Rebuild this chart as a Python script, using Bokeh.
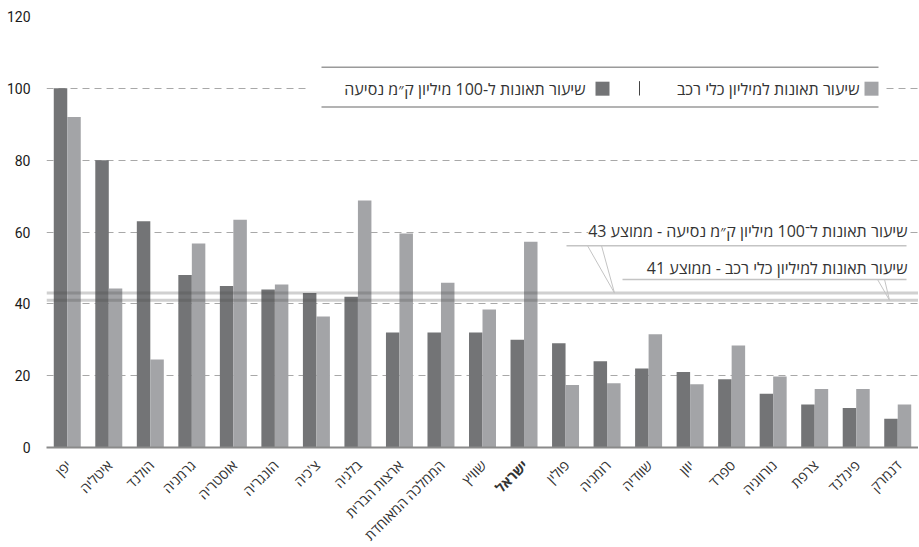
from math import pi
from bokeh.plotting import figure
from bokeh.layouts import column
from bokeh.models import Range1d, ColumnDataSource, Label, Span, BoxAnnotation, FixedTicker
from bokeh.transform import dodge
from bokeh.core.properties import value
from bokeh.embed import file_html
from bokeh.resources import INLINE

countries = ["יפן", "איטליה", "הולנד", "גרמניה", "אוסטריה", "הונגריה", "צ'כיה", "בלגיה",
             "ארצות הברית", "הממלכה המאוחדת", "שוויץ", "ישראל", "פולין", "רומניה", "שוודיה",
             "יוון", "ספרד", "נורווגיה", "צרפת", "פינלנד", "דנמרק"]
rate_per_100m_km = [100, 80, 63, 48, 45, 44, 43, 42, 32, 32, 32, 30, 29, 24, 22, 21, 19, 15, 12, 11, 8]
rate_per_1m_vehicles = [92, 44.3, 24.5, 56.8, 63.4, 45.4, 36.5, 68.8, 59.6, 45.9, 38.4, 57.3,
                        17.4, 17.9, 31.5, 17.6, 28.4, 19.8, 16.3, 16.3, 12]
highlight = "ישראל"
avg_km = 43
avg_veh = 41
y_ticks = [0, 20, 40, 60, 80, 100, 120]

name_km = "שיעור תאונות ל-100 מיליון ק״מ נסיעה"
name_veh = "שיעור תאונות למיליון כלי רכב"
note_km = "שיעור תאונות ל־100 מיליון ק״מ נסיעה - ממוצע %d" % avg_km
note_veh = "שיעור תאונות למיליון כלי רכב - ממוצע %d" % avg_veh

DARK = "#737476"
LIGHT = "#a3a4a7"
HEB = "Open Sans"

n = len(countries)
FRAME_W = 872


def px(x):
    # frame pixel -> x units (layout helper for annotations)
    return x * n / FRAME_W


pos = [i + 0.5 for i in range(n)]
src = ColumnDataSource(dict(
    pos=pos, country=countries, km=rate_per_100m_km, veh=rate_per_1m_vehicles,
    style=["bold" if c == highlight else "normal" for c in countries],
))

xr = Range1d(0, n)
p = figure(x_range=xr, y_range=Range1d(0, 120),
           frame_width=FRAME_W, frame_height=431, output_backend="svg", toolbar_location=None,
           min_border_left=46, min_border_right=0, min_border_top=16, min_border_bottom=10)
p.outline_line_color = None
p.background_fill_color = "white"
p.border_fill_color = "white"

p.xgrid.grid_line_color = None
p.ygrid.ticker = FixedTicker(ticks=y_ticks[1:])
p.ygrid.grid_line_color = "#a8a8a8"
p.ygrid.grid_line_dash = "7 5"
p.ygrid.grid_line_width = 1.2

p.xaxis.ticker = FixedTicker(ticks=[])
p.xaxis.axis_line_color = "#8a8a8a"
p.xaxis.axis_line_width = 2
p.xaxis.major_tick_line_color = None
p.xaxis.minor_tick_line_color = None
p.xaxis.major_label_standoff = 0

p.yaxis.ticker = FixedTicker(ticks=y_ticks)
p.yaxis.axis_line_color = None
p.yaxis.major_tick_line_color = None
p.yaxis.minor_tick_line_color = None
p.yaxis.major_tick_out = 0
p.yaxis.major_tick_in = 0
p.yaxis.major_label_standoff = 16
p.yaxis.major_label_text_font = "Roboto"
p.yaxis.major_label_text_font_size = "14px"
p.yaxis.major_label_text_color = "#1a1a1a"

w = 0.325
p.vbar(x=dodge("pos", -w / 2), top="km", width=w, source=src,
       fill_color=DARK, line_color=None)
p.vbar(x=dodge("pos", w / 2), top="veh", width=w, source=src,
       fill_color=LIGHT, line_color=None)

# average lines
for a in (avg_km, avg_veh):
    p.add_layout(Span(location=a, dimension="width", line_color="#444444",
                      line_alpha=0.25, line_width=3))

# legend box
p.add_layout(BoxAnnotation(left=px(262), right=px(838), bottom=94.6, top=106.2,
                           fill_color="white", fill_alpha=1, line_color=None))
p.segment(x0=[px(275)] * 2, y0=[105.9, 94.8], x1=[px(832)] * 2, y1=[105.9, 94.8],
          line_color="#9a9a9a", line_width=1.5, level="overlay")
p.scatter(x=[px(825), px(556)], y=[99.9, 99.9], marker="square", size=14,
          fill_color=[LIGHT, DARK], line_color=None, level="overlay")
p.segment(x0=[px(593)], y0=[98.0], x1=[px(593)], y1=[102.0],
          line_color="#444444", line_width=1, level="overlay")
for x, t in ((813, name_veh), (539, name_km)):
    p.add_layout(Label(x=px(x), y=99.8, text=t, text_align="right",
                       text_baseline="middle", text_font=HEB, text_font_size="16px",
                       text_color="#333333"))

# average notes
p.add_layout(Label(x=px(861), y=60.2, text=note_km, text_align="right",
                   text_baseline="middle", text_font=HEB, text_font_size="16px",
                   text_color="#333333", background_fill_color="white"))
p.add_layout(Label(x=px(861), y=49.9, text=note_veh, text_align="right",
                   text_baseline="middle", text_font=HEB, text_font_size="16px",
                   text_color="#333333", background_fill_color="white"))
p.segment(x0=[px(520), px(576)], y0=[56.2, 46.8], x1=[px(860)] * 2, y1=[56.2, 46.8],
          line_color="#c4c4c4", line_width=1.5, level="overlay")
p.segment(x0=[px(541), px(555), px(831), px(838)], y0=[56.2, 56.2, 46.8, 46.8],
          x1=[px(568), px(568), px(843), px(843)], y1=[avg_km, avg_km, avg_veh, avg_veh],
          line_color="#c4c4c4", line_width=1, level="overlay")

# category labels strip, y range scaled 1:1 with x so that rotation is exact
LAB_H = 88
p2 = figure(x_range=xr, y_range=Range1d(-px(LAB_H), 0), frame_width=FRAME_W, frame_height=LAB_H,
            output_backend="svg", toolbar_location=None,
            min_border_left=46, min_border_right=0, min_border_top=0, min_border_bottom=0)
p2.axis.visible = False
p2.grid.visible = False
p2.outline_line_color = None
p2.border_fill_color = "white"
p2.text(x=dodge("pos", px(1)), y=-px(5), text="country", source=src, angle=pi / 4,
        text_align="right", text_baseline="middle", text_font=value(HEB),
        text_font_size="14px", text_color="#333333", text_font_style="style")

layout = column(p, p2, spacing=0)
open("out.html", "w").write(file_html(layout, INLINE))
